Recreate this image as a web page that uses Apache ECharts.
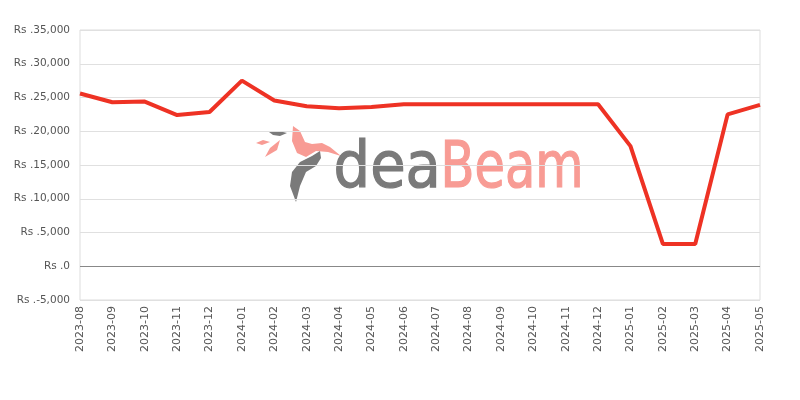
<!DOCTYPE html>
<html>
<head>
<meta charset="utf-8">
<script src="https://cdn.jsdelivr.net/npm/echarts@6/dist/echarts.min.js"></script>
<style>html,body{margin:0;padding:0;background:#fff}#c{width:800px;height:400px}</style>
</head>
<body>
<div id="c"></div>
<script>
const categories = ['2023-08','2023-09','2023-10','2023-11','2023-12','2024-01','2024-02','2024-03','2024-04','2024-05','2024-06','2024-07','2024-08','2024-09','2024-10','2024-11','2024-12','2025-01','2025-02','2025-03','2025-04','2025-05'];
const prices = [25600,24300,24400,22400,22850,27500,24550,23700,23400,23600,24000,24000,24000,24000,24000,24000,24000,17800,3300,3300,22500,23900];
const yMin = -5000, yMax = 35000, yStep = 5000;

const chart = echarts.init(document.getElementById('c'));
chart.setOption({
  animation: false,
  grid: { left: 80, right: 40, top: 30, bottom: 100, show: true, borderColor: '#dddddd', borderWidth: 1 },
  graphic: [
    { type: 'polygon', silent: true, z: 0,
      shape: { points: [[293,126],[300,131],[305,142],[312,144],[322,143],[330,147],[341,156],[328,152],[316,151],[306,157],[297,153],[292,141]] },
      style: { fill: '#f89b94' } },
    { type: 'polygon', silent: true, z: 0,
      shape: { points: [[296,202],[290,186],[292,172],[300,162],[312,156],[320,151],[321,158],[316,166],[306,172],[300,186]] },
      style: { fill: '#7a7a7a' } },
    { type: 'polygon', silent: true, z: 0,
      shape: { points: [[256,143],[263,140],[270,142],[262,145]] },
      style: { fill: '#f89b94' } },
    { type: 'polygon', silent: true, z: 0,
      shape: { points: [[265,157],[270,148],[280,140],[277,150]] },
      style: { fill: '#f89b94' } },
    { type: 'polygon', silent: true, z: 0,
      shape: { points: [[269,132],[279,131],[287,133],[280,136],[273,135]] },
      style: { fill: '#7a7a7a' } },
    { type: 'text', left: 333, top: 138, z: 0, silent: true, scaleX: 1,
      style: { text: 'dea', fill: '#7a7a7a', stroke: '#7a7a7a', lineWidth: 1.2, fontSize: 64, fontFamily: 'DejaVu Sans Condensed', fontWeight: 'normal' } },
    { type: 'text', left: 440, top: 138, z: 0, silent: true, scaleX: 0.86,
      style: { text: 'Beam', fill: '#f89b94', stroke: '#f89b94', lineWidth: 1.2, fontSize: 64, fontFamily: 'DejaVu Sans Condensed', fontWeight: 'normal' } }
  ],
  xAxis: {
    type: 'category', data: categories, boundaryGap: false,
    axisLine: { show: false, onZero: false },
    axisTick: { show: false },
    axisLabel: { rotate: 90, color: '#555', fontSize: 11, fontFamily: 'DejaVu Sans', margin: 6, interval: 0 },
    splitLine: { show: false }
  },
  yAxis: {
    type: 'value', min: yMin, max: yMax, interval: yStep,
    axisLine: { show: false },
    axisTick: { show: false },
    axisLabel: { color: '#555', fontSize: 10.5, fontFamily: 'DejaVu Sans', margin: 10,
      formatter: v => 'Rs .' + v.toLocaleString('en-US') },
    splitLine: { lineStyle: { color: '#e0e0e0', width: 1 } }
  },
  series: [{
    type: 'line', data: prices, showSymbol: false, symbol: 'none', z: 5,
    lineStyle: { color: '#ee3224', width: 4 },
    markLine: {
      silent: true, symbol: 'none', label: { show: false },
      lineStyle: { color: '#888', type: 'solid', width: 1 },
      data: [{ yAxis: 0 }]
    }
  }]
});
</script>
</body>
</html>
